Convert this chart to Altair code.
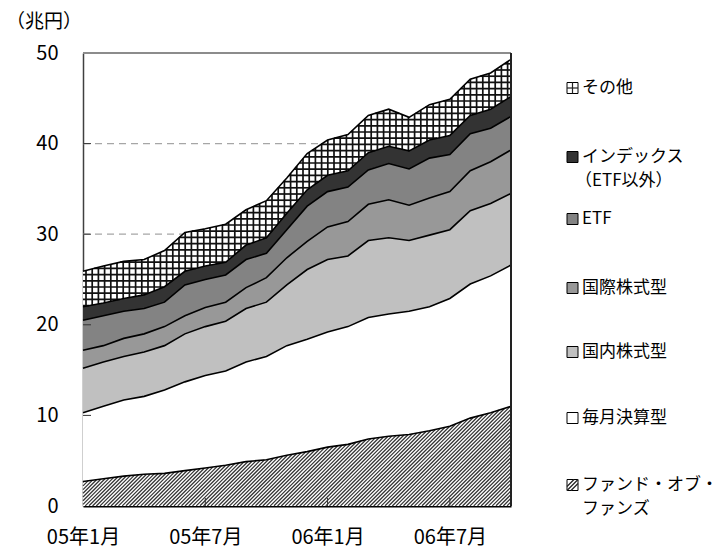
import json

import altair as alt
import numpy as np
import pandas as pd

FONT = "Noto Sans CJK JP"

# ---- data (兆円, month-end balances) ----
months = ["05年1月", "05年2月", "05年3月", "05年4月", "05年5月", "05年6月",
          "05年7月", "05年8月", "05年9月", "05年10月", "05年11月", "05年12月",
          "06年1月", "06年2月", "06年3月", "06年4月", "06年5月", "06年6月",
          "06年7月", "06年8月", "06年9月", "06年10月"]
tick_months = ["05年1月", "05年7月", "06年1月", "06年7月"]
y_ticks = [0, 10, 20, 30, 40, 50]

fund_of_funds = [2.7, 3.0, 3.3, 3.5, 3.6, 3.9, 4.2, 4.5, 4.9, 5.1, 5.6,
                 6.0, 6.5, 6.8, 7.4, 7.7, 7.9, 8.3, 8.8, 9.7, 10.3, 11.0]
monthly_dist = [7.6, 8.0, 8.4, 8.6, 9.2, 9.8, 10.2, 10.4, 11.0, 11.4, 12.1,
                12.4, 12.7, 13.0, 13.4, 13.5, 13.6, 13.7, 14.1, 14.8, 15.1, 15.6]
domestic_eq = [4.9, 4.9, 4.8, 4.9, 4.9, 5.3, 5.4, 5.5, 5.9, 6.0, 6.7,
               7.7, 8.0, 7.8, 8.5, 8.4, 7.8, 7.9, 7.6, 8.1, 8.0, 7.9]
intl_eq = [2.0, 1.8, 2.0, 2.0, 2.1, 2.0, 2.1, 2.1, 2.3, 2.7, 3.0,
           3.1, 3.6, 3.8, 4.0, 4.2, 3.9, 4.1, 4.2, 4.4, 4.6, 4.8]
etf = [3.3, 3.3, 3.0, 2.8, 2.7, 3.4, 3.1, 3.0, 3.1, 2.7, 3.1,
       3.9, 3.9, 3.8, 3.8, 4.0, 4.0, 4.4, 4.1, 4.1, 3.7, 3.7]
index_funds = [1.5, 1.4, 1.4, 1.5, 1.7, 1.5, 1.5, 1.4, 1.6, 1.7, 1.8,
               1.8, 1.8, 1.8, 1.9, 1.9, 2.0, 2.0, 2.1, 2.0, 2.1, 2.2]
others = [3.9, 4.1, 4.1, 3.9, 4.0, 4.3, 4.1, 4.2, 3.9, 4.1, 3.9,
          4.0, 3.9, 4.0, 4.1, 4.1, 3.7, 3.9, 4.0, 4.0, 4.0, 4.1]

# stacking order, bottom to top
series_names = ["ファンド・オブ・ファンズ", "毎月決算型", "国内株式型", "国際株式型",
                "ETF", "インデックス（ETF以外）", "その他"]
series_values = [fund_of_funds, monthly_dist, domestic_eq, intl_eq, etf,
                 index_funds, others]
series_fill = ["#ffffff", "#ffffff", "#c0c0c0", "#989898", "#838383",
               "#333333", "#ffffff"]

# legend entries, top to bottom
legend_names = ["その他", "インデックス（ETF以外）", "ETF", "国際株式型",
                "国内株式型", "毎月決算型", "ファンド・オブ・ファンズ"]
legend_lines = [["その他"], ["インデックス", "（ETF以外）"], ["ETF"], ["国際株式型"],
                ["国内株式型"], ["毎月決算型"], ["ファンド・オブ・", "ファンズ"]]

# ---- layout ----
W, H = 428, 453
Y_MAX = 50
N = len(months)
LEG_Y = [35, 104, 166, 235, 299, 365, 432]
LEG_LINE_GAP = 24
SW_X0, SW_SIZE = 484, 11
TXT_X = 499

# ---- stacked table ----
rows = []
cum = np.zeros(N)
tops = {}
for name, vals in zip(series_names, series_values):
    lo = cum.copy()
    hi = cum + np.array(vals, dtype=float)
    tops[name] = hi
    for i in range(N):
        rows.append({"series": name, "i": i, "month": months[i],
                     "lo": round(lo[i], 3), "hi": round(hi[i], 3)})
    cum = hi
stack = pd.DataFrame(rows)


def px_y(v):
    return H - np.asarray(v, dtype=float) * H / Y_MAX


xs = np.arange(0, W + 0.001, 0.25)
pos = xs * (N - 1) / W


def boundary_px(cum_vals):
    return px_y(np.interp(pos, np.arange(N), cum_vals))


def runs(mask):
    edges = np.flatnonzero(np.diff(np.concatenate([[0], mask.astype(int), [0]])))
    return list(zip(edges[0::2], edges[1::2] - 1))


# cross-hatch texture inside the その他 band
top_px = boundary_px(tops["その他"])
low_px = boundary_px(tops["インデックス（ETF以外）"])
grid_segs = []
for xv in np.arange(3, W, 6.2):
    yt = float(np.interp(xv, xs, top_px))
    yb = float(np.interp(xv, xs, low_px))
    grid_segs.append((xv, yt, xv, yb))
for yv in np.arange(H - 2, 0, -6.2):
    m = (yv >= top_px) & (yv <= low_px)
    for a, b in runs(m):
        grid_segs.append((xs[a], yv, xs[b], yv))
grid_df = pd.DataFrame(grid_segs, columns=["x", "y", "x2", "y2"])

# diagonal hatch inside the fund-of-funds band
fof_px = boundary_px(tops["ファンド・オブ・ファンズ"])
diag_segs = []
for c in np.arange(0, W + H, 3.7):
    py = c - xs
    m = (py >= fof_px) & (py <= H)
    for a, b in runs(m):
        diag_segs.append((xs[a], c - xs[a], xs[b], c - xs[b]))
diag_df = pd.DataFrame(diag_segs, columns=["x", "y", "x2", "y2"])

# ---- shared encodings ----
label_expr = json.dumps(months, ensure_ascii=False) + "[datum.value]"
tick_idx = [months.index(m) for m in tick_months]


def x_enc(field):
    return alt.X(field, type="quantitative", title=None,
                 scale=alt.Scale(domain=[0, N - 1], nice=False, zero=False),
                 axis=alt.Axis(values=tick_idx, labelExpr=label_expr, ticks=False,
                               grid=False, domainColor="#000000", domainWidth=2,
                               labelFontSize=20, labelFont=FONT, labelColor="#000000",
                               labelPadding=21, labelFlush=False, labelOverlap=False))


def y_enc(field):
    return alt.Y(field, type="quantitative", title=None,
                 scale=alt.Scale(domain=[0, Y_MAX], nice=False),
                 axis=alt.Axis(values=y_ticks, ticks=False, grid=False,
                               domainColor="#404040", domainWidth=1.5,
                               labelFontSize=20, labelFont=FONT, labelColor="#000000",
                               labelPadding=25))


def px_rule(df, color, width):
    return alt.Chart(df).mark_rule(color=color, strokeWidth=width).encode(
        x=alt.X("x:Q", scale=None, axis=None),
        y=alt.Y("y:Q", scale=None, axis=None),
        x2="x2:Q", y2="y2:Q")


# dashed gridlines (only visible above the top band)
grid_lines = alt.Chart(pd.DataFrame({"v": [10, 20, 30, 40]})).mark_rule(
    color="#a6a6a6", strokeWidth=1.2, strokeDash=[7, 5]
).encode(x=alt.value(0), x2=alt.value(W), y=y_enc("v"))

areas = alt.Chart(stack).mark_area(interpolate="linear").encode(
    x=x_enc("i"), y=y_enc("hi"), y2="lo",
    fill=alt.Fill("series:N", scale=alt.Scale(domain=series_names, range=series_fill),
                  legend=None))

cross_hatch = px_rule(grid_df, "#111111", 1.7)
diag_hatch = px_rule(diag_df, "#333333", 1.25)

edges = alt.Chart(stack).mark_line(color="#000000", strokeWidth=1.6,
                                   interpolate="linear").encode(
    x=x_enc("i"), y=y_enc("hi"), detail="series:N")

# inner tick marks
y_tick_marks = alt.Chart(pd.DataFrame({"v": y_ticks[1:-1]})).mark_rule(
    color="#333333", strokeWidth=1).encode(x=alt.value(0), x2=alt.value(8), y=y_enc("v"))
x_tick_marks = alt.Chart(pd.DataFrame({"t": tick_idx[1:]})).mark_rule(
    color="#333333", strokeWidth=1).encode(x=x_enc("t"), y=alt.value(H), y2=alt.value(H - 8))

# plot frame: grey top line, dark right edge
frame_top = alt.Chart(pd.DataFrame({"v": [Y_MAX]})).mark_rule(
    color="#8c8c8c", strokeWidth=2).encode(x=alt.value(0), x2=alt.value(W), y=y_enc("v"))
frame_right = alt.Chart(pd.DataFrame({"t": [N - 1]})).mark_rule(
    color="#222222", strokeWidth=2).encode(x=x_enc("t"), y=alt.value(0), y2=alt.value(H))

# ---- legend ----
fill_of = dict(zip(series_names, series_fill))
sw_rows, txt_rows, sw_lines = [], [], []
for name, lines, yc in zip(legend_names, legend_lines, LEG_Y):
    y0 = yc - SW_SIZE / 2
    sw_rows.append({"x": SW_X0, "x2": SW_X0 + SW_SIZE, "y": y0, "y2": y0 + SW_SIZE,
                    "fill": fill_of[name]})
    for k, line in enumerate(lines):
        shift = -7 if line.startswith("（") else 0
        txt_rows.append({"x": TXT_X + shift, "y": yc + k * LEG_LINE_GAP, "label": line})
    if name == "その他":
        cx, cy = SW_X0 + SW_SIZE / 2, yc
        sw_lines.append((cx, y0, cx, y0 + SW_SIZE))
        sw_lines.append((SW_X0, cy, SW_X0 + SW_SIZE, cy))
    if name == "ファンド・オブ・ファンズ":
        for off in (-4, 0, 4):
            a = max(0, off)
            b = min(SW_SIZE, SW_SIZE + off)
            sw_lines.append((SW_X0 + a, y0 + SW_SIZE - (a - off),
                             SW_X0 + b, y0 + SW_SIZE - (b - off)))

sw_df = pd.DataFrame(sw_rows)
legend_boxes = alt.Chart(sw_df).mark_rect(stroke="#000000", strokeWidth=1).encode(
    x=alt.X("x:Q", scale=None, axis=None), x2="x2:Q",
    y=alt.Y("y:Q", scale=None, axis=None), y2="y2:Q",
    fill=alt.Fill("fill:N", scale=None, legend=None))
legend_marks = px_rule(pd.DataFrame(sw_lines, columns=["x", "y", "x2", "y2"]), "#222222", 1.2)
legend_text = alt.Chart(pd.DataFrame(txt_rows)).mark_text(
    align="left", baseline="middle", fontSize=17, font=FONT, color="#000000").encode(
    x=alt.X("x:Q", scale=None, axis=None), y=alt.Y("y:Q", scale=None, axis=None),
    text="label:N")

unit_title = alt.Chart(pd.DataFrame({"x": [-77], "y": [-31], "label": ["（兆円）"]})).mark_text(
    align="left", baseline="middle", fontSize=19, font=FONT, color="#000000").encode(
    x=alt.X("x:Q", scale=None, axis=None), y=alt.Y("y:Q", scale=None, axis=None),
    text="label:N")

chart = alt.layer(
    grid_lines, areas, cross_hatch, diag_hatch, edges, y_tick_marks, x_tick_marks,
    frame_top, frame_right, legend_boxes, legend_marks, legend_text, unit_title
).properties(
    width=W, height=H,
    padding={"left": 83, "top": 53, "right": 210, "bottom": 44},
    autosize=alt.AutoSizeParams(type="none"),
).configure_view(stroke=None).configure_text(font=FONT)

chart.save("out.html", embed_options={"renderer": "svg", "actions": False})
